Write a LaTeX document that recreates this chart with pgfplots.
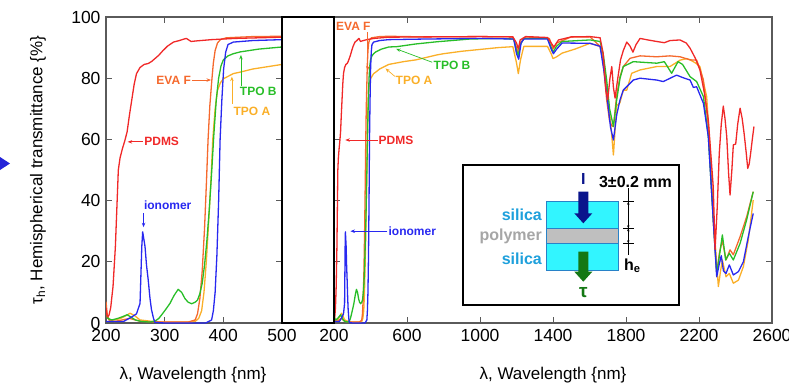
\documentclass[border=0pt]{standalone}
\usepackage{pgfplots}
\pgfplotsset{compat=1.18}
\usepackage{pgfplotstable}
\usepackage{fontspec}
\setmainfont{Liberation Sans}
\usetikzlibrary{arrows.meta}

\definecolor{cPDMS}{RGB}{240,40,40}
\definecolor{cEVA}{RGB}{245,105,45}
\definecolor{cTPOA}{RGB}{250,175,40}
\definecolor{cTPOB}{RGB}{40,190,40}
\definecolor{cION}{RGB}{40,40,240}
\definecolor{cCyan}{RGB}{50,245,255}
\definecolor{cBorder}{RGB}{40,130,200}
\definecolor{cSilTxt}{RGB}{30,160,220}
\definecolor{cNavy}{RGB}{10,20,140}
\definecolor{cDkGreen}{RGB}{20,120,20}
\definecolor{cFrame}{RGB}{90,90,90}

\pgfplotstableread{
x y
200 5
202 2
205 2.5
208 5
212 12
216 25
219 40
221 50
224 54
228 57
232 59.5
236 62.5
240 68
244 73
248 78
252 81.5
258 83.5
265 84.5
272 84.8
278 85.5
284 86.5
290 87.5
297 89
305 90.5
315 91.8
325 92.3
333 92.8
337 93
341 92.5
345 92
355 92.2
380 92.6
420 93
500 93.4
700 93.5
1000 93.6
1180 93.5
1200 91.5
1210 89.5
1220 92.5
1250 93.6
1370 93.3
1390 91.5
1405 90.2
1430 92.5
1500 93.5
1603 93.6
1658 93.2
1675 88
1690 76
1700 73
1712 80
1722 83.8
1731 77
1740 73.5
1755 80
1770 86
1785 89
1804 91.8
1822 90.5
1838 88.5
1855 91
1877 93
1920 92.5
1968 92
2010 91.6
2041 92.3
2096 92.5
2130 91.5
2151 89.8
2180 86.5
2205 82.7
2230 75
2251 66.3
2265 55
2278 44.5
2288 24
2300 38
2311 55.5
2322 65
2333 70.9
2342 67
2352 60.9
2362 49
2370 41.8
2380 50
2388 58.2
2401 58.5
2412 65
2425 70.2
2436 67
2447 62
2458 56
2467 50.5
2475 52
2483 55.5
2492 60
2501 64.2
}\PDMS

\pgfplotstableread{
x y
200 7
202 3
205 1
215 0.5
240 1.5
260 0.5
300 0.3
340 0.3
352 1
356 3
360 8
364 17
368 31
371 45
374 60
377 71
380.5 79.6
383 85
386 89
390 91.5
395 92.6
405 93.2
450 93.6
500 93.7
700 93.5
1000 93.6
1180 93.5
1200 90
1210 88
1220 91.5
1250 93.5
1380 93
1400 89.5
1420 91.5
1500 93.5
1603 93.5
1658 90.4
1675 85
1694 72.9
1710 66
1722 64.5
1731 64.2
1749 74.5
1767 80.5
1785 83.8
1822 86.5
1877 87.3
1968 87
2041 87.3
2096 87
2151 86
2187 85.9
2205 83
2224 79.4
2251 64.2
2278 33.7
2297 16.2
2312 23
2328 27
2348 20.6
2370 23.9
2388 22.3
2425 28.2
2461 34.7
2497 42.9
}\EVA

\pgfplotstableread{
x y
200 5
202 2
206 1
215 1
225 1.5
235 2.5
241 3.2
248 2.5
258 1
280 0.5
300 0.3
345 0.3
352 0.5
358 1.5
363 4
367 10
371 20
375 33
379 47
382 60
386 70
390 76
395 78.5
400 79.8
410 80.8
417 81.5
429 82
450 83
500 84.5
580 85.4
650 86
763 87.6
800 88
900 88.8
1000 89.4
1100 90
1180 90.3
1200 85
1210 81.5
1222 86
1240 90.4
1370 90.4
1390 88
1400 86.4
1420 87
1450 88.2
1520 89.5
1603 91.4
1658 90.4
1680 85
1700 74
1715 66
1731 54.9
1749 71
1767 72
1785 76.1
1804 76.1
1831 81.6
1877 82.7
1968 83.8
2041 83.8
2096 85.9
2133 86.4
2151 86
2180 85
2205 83.8
2242 74
2260 57.6
2282 31.5
2306 11.9
2318 17
2328 20.6
2348 15.1
2366 16.2
2388 13
2416 14
2443 18.4
2470 27.1
2497 40.2
}\TPOA

\pgfplotstableread{
x y
200 3
203 1.5
210 1
220 1.5
230 2.2
236 2.7
242 2
250 1
260 0.5
275 0.3
285 0.8
290 1.5
295 2.7
302 4.5
309 6.4
316 9
323 11
329 10
334.5 8
340 6.8
346 6.3
352 6.8
356 7.5
360 9.6
364 13
368 19
372 27
376 37
380 49
384 62
388 73
392 80
396 84
400 86
408 87.3
417 88
429 88.6
460 89.5
500 90.2
543 90.3
650 91.2
763 91.9
945 92.8
1100 93
1185 92.8
1200 89
1210 87.5
1222 91
1240 93
1370 93
1390 90
1400 88.5
1420 90.5
1450 92
1603 92.5
1658 92
1675 88
1694 79.4
1710 70
1731 64.2
1749 72.9
1767 79.9
1785 83.8
1840 85.4
1968 84.9
2010 85.4
2050 81.6
2085 85.4
2110 84.5
2151 80.5
2187 78.9
2224 74
2251 60.9
2278 33.7
2297 16.2
2312 22
2328 28.8
2346 20.6
2366 22.8
2388 20.6
2425 26
2461 33.7
2497 42.9
}\TPOB

\pgfplotstableread{
x y
200 0.5
230 0.5
244 2
252 3
258 6.4
261 25
262.5 29.8
264 28
266.5 25
269 19
272 14
275 8
277.5 4.4
281 1.5
283.5 0.2
300 0
370 0
380 1
383 4
386 10
389 22
392 40
394.5 60
397.5 73
400.5 83
404 88.5
408 91
417 91.8
450 92.3
500 92.6
700 92.8
1000 93
1185 92.8
1200 88
1212 86.2
1225 91.5
1240 92.8
1370 92.8
1390 89.5
1402 88
1420 89.5
1450 91.5
1603 91.4
1658 90.4
1680 82
1700 72
1715 64
1731 59.8
1749 68
1767 72.9
1785 76.1
1840 79.4
1877 80
1968 79.4
2004 78.9
2077 81
2120 80
2151 79.4
2169 77
2187 77.2
2224 71.8
2251 60.9
2278 33.7
2297 15.1
2310 19
2322 22
2334 17
2348 16.2
2366 19
2388 15.7
2416 16.8
2443 20
2470 28.2
2497 35.8
}\ION

\newcommand{\annot}{\fontsize{12bp}{14bp}\selectfont\bfseries}
\newcommand{\bigf}{\fontsize{17bp}{20bp}\selectfont}
\newcommand{\tickf}{\fontsize{17.5bp}{20bp}\selectfont}
\newcommand{\ins}{\fontsize{16bp}{18bp}\selectfont\bfseries}

\tikzset{
  crv/.style={line width=1.3bp, line join=round},
  ann/.style={line width=0.7bp, -{Stealth[length=4.5bp,width=3.5bp]}},
}
\pgfplotsset{
  panel/.style={
    scale only axis, height=306bp, ymin=0, ymax=100, ytick={0,20,...,100},
    tick align=inside, xtick pos=both, ytick pos=both, major tick length=6bp,
    axis line style={cFrame, line width=1.2bp},
    every tick/.style={cFrame, line width=1bp},
    tick label style={font=\tickf},
    xticklabel style={yshift=-2.5bp},
    yticklabel style={xshift=-2bp},
    /pgf/number format/assume math mode=true,
    /pgf/number format/1000 sep={},
    scaled ticks=false, clip mode=individual,
  },
}

\begin{document}
\begin{tikzpicture}[x=1bp,y=1bp]
\useasboundingbox (0,0) rectangle (789,382);

\begin{axis}[panel, at={(106bp,59bp)}, anchor=south west, width=176bp,
  xmin=200, xmax=500, xtick={200,300,400,500}]
\addplot[crv, no marks, cTPOA] table {\TPOA};
\addplot[crv, no marks, cEVA] table {\EVA};
\addplot[crv, no marks, cTPOB] table {\TPOB};
\addplot[crv, no marks, cION] table {\ION};
\addplot[crv, no marks, cPDMS] table {\PDMS};
\draw[ann, cEVA] (axis cs:346,79.4) -- (axis cs:379,79.4);
\node[text=cEVA, anchor=east, font=\annot, inner sep=0] at (axis cs:345,79.4) {EVA F};
\draw[ann, cTPOB] (axis cs:430,77.5) -- (axis cs:430,87.6);
\node[text=cTPOB, anchor=west, font=\annot, inner sep=0] at (axis cs:428,75.6) {TPO B};
\draw[ann, cTPOA] (axis cs:414.6,71.5) -- (axis cs:414.6,80.5);
\node[text=cTPOA, anchor=west, font=\annot, inner sep=0] at (axis cs:417,69.3) {TPO A};
\draw[ann, cPDMS] (axis cs:263,59.2) -- (axis cs:237,59.2);
\node[text=cPDMS, anchor=west, font=\annot, inner sep=0] at (axis cs:265,59.2) {PDMS};
\draw[ann, cION] (axis cs:264,36) -- (axis cs:264,31.3);
\node[text=cION, anchor=west, font=\annot, inner sep=0] at (axis cs:264.5,38.4) {ionomer};
\end{axis}

\begin{axis}[panel, at={(334bp,59bp)}, anchor=south west, width=438bp,
  xmin=200, xmax=2600, xtick={200,600,...,2600}, yticklabel=\empty]
\addplot[crv, no marks, cTPOA] table {\TPOA};
\addplot[crv, no marks, cEVA] table {\EVA};
\addplot[crv, no marks, cTPOB] table {\TPOB};
\addplot[crv, no marks, cION] table {\ION};
\addplot[crv, no marks, cPDMS] table {\PDMS};
\node[text=cEVA, font=\annot, inner sep=0] at (axis cs:306,96.8) {EVA F};
\draw[ann, cEVA] (axis cs:385,95) -- (axis cs:385,82.5);
\draw[ann, cTPOB] (axis cs:738,85.2) -- (axis cs:540,89.6);
\node[text=cTPOB, anchor=west, font=\annot, inner sep=0] at (axis cs:745,84.1) {TPO B};
\draw[ann, cTPOA] (axis cs:533,80.6) -- (axis cs:482,83.2);
\node[text=cTPOA, anchor=west, font=\annot, inner sep=0] at (axis cs:537,79.3) {TPO A};
\draw[ann, cPDMS] (axis cs:440,59.8) -- (axis cs:262,59.8);
\node[text=cPDMS, anchor=west, font=\annot, inner sep=0] at (axis cs:444,59.8) {PDMS};
\draw[ann, cION] (axis cs:493,30) -- (axis cs:290,30);
\node[text=cION, anchor=west, font=\annot, inner sep=0] at (axis cs:498,30) {ionomer};
\end{axis}

% gap box between the panels
\draw[black, line width=1.5bp] (282,59) rectangle (334,365);

% axis labels
\node[rotate=90, font=\bigf] at (38,212) {τ\textsubscript{h}, Hemispherical transmittance \{\%\}};
\node[anchor=base, font=\bigf] at (193,2.8) {λ, Wavelength \{nm\}};
\node[anchor=base, font=\bigf] at (553,2.8) {λ, Wavelength \{nm\}};

% left blue marker
\fill[cION!90!black] (0,225) -- (10,218.5) -- (0,212) -- cycle;

% inset schematic
\draw[black, line width=2bp, fill=white] (463,77) rectangle (679,217);
\filldraw[fill=cCyan, draw=cBorder, line width=0.8bp] (546.7,153.7) rectangle (618.3,180.3);
\filldraw[fill=black!25, draw=cBorder, line width=0.8bp] (546.7,138.7) rectangle (618.3,153.7);
\filldraw[fill=cCyan, draw=cBorder, line width=0.8bp] (546.7,112) rectangle (618.3,138.7);
\fill[cNavy] (578.3,190.3) -- (588.3,190.3) -- (588.3,168.7) -- (592.3,168.7) -- (583.3,158.7) -- (574.3,168.7) -- (578.3,168.7) -- cycle;
\fill[cDkGreen] (578.3,130.3) -- (588.3,130.3) -- (588.3,110.3) -- (592.3,110.3) -- (583.3,100.3) -- (574.3,110.3) -- (578.3,110.3) -- cycle;
\node[font=\ins, text=cNavy] at (583.3,203) {I};
\node[font=\fontsize{19bp}{20bp}\selectfont\bfseries, text=cDkGreen] at (583.3,89) {τ};
\node[font=\ins, text=cSilTxt, anchor=east, inner sep=1bp] at (543,167) {silica};
\node[font=\ins, text=black!35, anchor=east, inner sep=1bp] at (543,145.3) {polymer};
\node[font=\ins, text=cSilTxt, anchor=east, inner sep=1bp] at (543,123) {silica};
\node[font=\ins] at (635.5,200.3) {3±0.2 mm};
\draw[black, line width=0.8bp] (628.3,194) -- (628.3,127);
\foreach \yy in {180.3,153.7,138.7} \draw[black, line width=0.8bp] (623,\yy) -- (633.6,\yy);
\draw[black, line width=0.6bp, {Stealth[length=3bp,width=2.5bp]}-{Stealth[length=3bp,width=2.5bp]}] (628.3,180.3) -- (628.3,153.7);
\draw[black, line width=0.6bp, {Stealth[length=3bp,width=2.5bp]}-{Stealth[length=3bp,width=2.5bp]}] (628.3,153.7) -- (628.3,138.7);
\node[font=\ins, anchor=base west, inner sep=0] at (624,112) {h\textsubscript{e}};
\end{tikzpicture}
\end{document}
